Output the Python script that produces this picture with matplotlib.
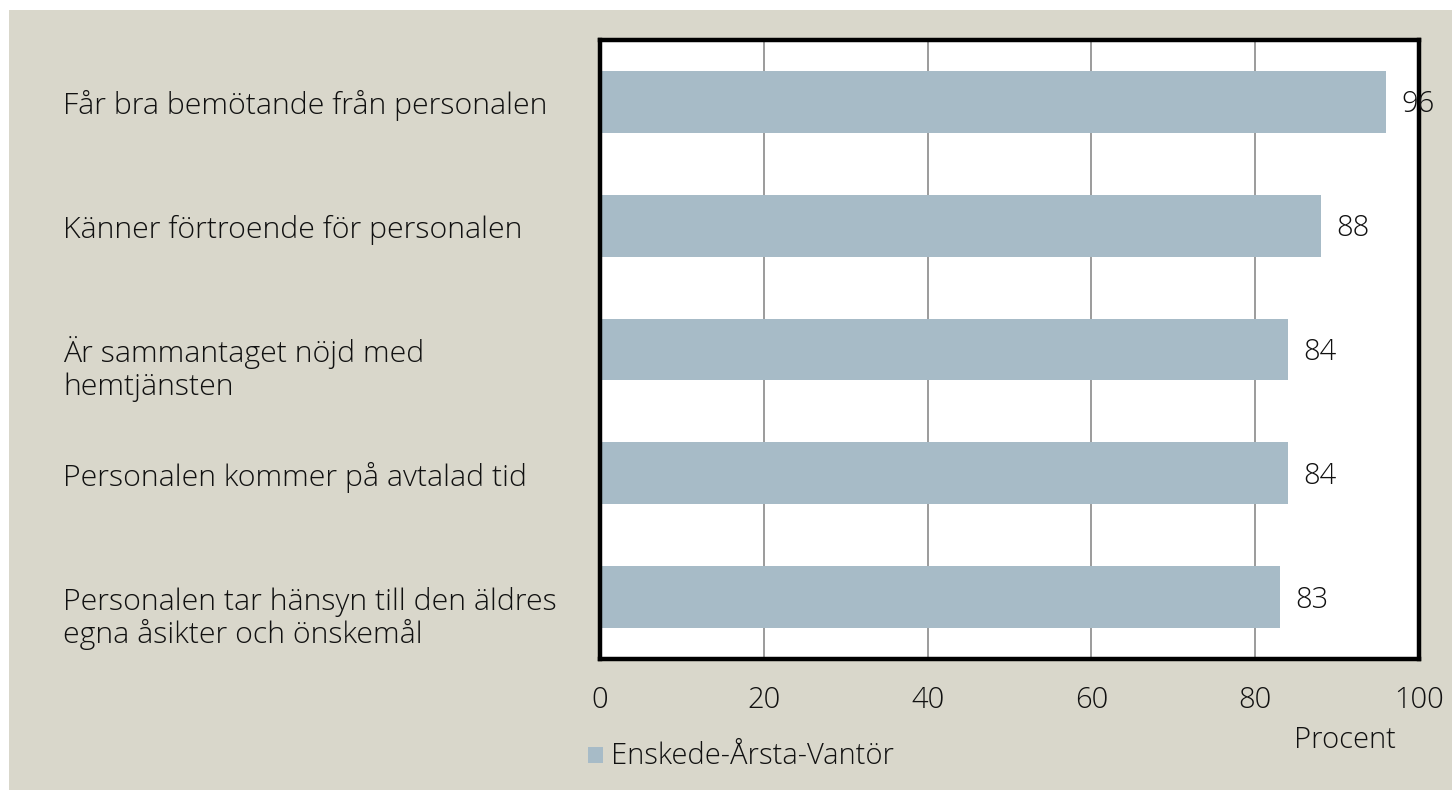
import matplotlib
matplotlib.use("Agg")
import matplotlib.pyplot as plt
from matplotlib.patches import Rectangle
from matplotlib.transforms import blended_transform_factory

# data, top to bottom as in the chart
categories = [
    "Får bra bemötande från personalen",
    "Känner förtroende för personalen",
    "Är sammantaget nöjd med\nhemtjänsten",
    "Personalen kommer på avtalad tid",
    "Personalen tar hänsyn till den äldres\negna åsikter och önskemål",
]
values = [96, 88, 84, 84, 83]
xticks = [0, 20, 40, 60, 80, 100]
series_name = "Enskede-Årsta-Vantör"
unit_label = "Procent"

BG = "#D9D7CB"
BAR = "#A7BBC7"
INK = "#111111"
FONT = "Open Sans"
WT = "light"
FS = 21
FS_CAT = 21.8
LINE_PT = 24  # distance between wrapped label lines, points

W, H = 1452, 790
fig = plt.figure(figsize=(W / 100, H / 100), dpi=100)
fig.patch.set_facecolor("white")
# beige panel, leaving a thin white strip on top and left
fig.patches.append(Rectangle((9 / W, 0), 1, 1 - 10 / H, transform=fig.transFigure,
                             facecolor=BG, edgecolor="none", zorder=-10))

ax = fig.add_axes([600 / W, 1 - 659 / H, (1419 - 600) / W, (659 - 40) / H])
ax.set_zorder(1)
ax.set_facecolor("white")

ypos = list(range(len(values)))[::-1]
ax.barh(ypos, values, height=0.5, color=BAR, zorder=2)

ax.set_xlim(0, 100)
ax.set_ylim(-0.5, len(values) - 0.5)
ax.set_xticks(xticks)
ax.set_xticklabels([str(t) for t in xticks], fontsize=FS, family=FONT,
                   weight=WT, color=INK)
ax.tick_params(axis="x", length=0, pad=19)
ax.set_yticks([])
ax.grid(axis="x", color="#8a8a8a", linewidth=1.2, zorder=1)
for s in ax.spines.values():
    s.set_linewidth(3.2)
    s.set_color("black")
    s.set_zorder(5)

# value labels just right of each bar
for y, v in zip(ypos, values):
    ax.annotate(str(v), (v, y), xytext=(11, -2), textcoords="offset points",
                va="center", ha="left", fontsize=FS, family=FONT, weight=WT,
                color=INK, zorder=6, annotation_clip=False)

# category labels, left-aligned in the figure margin; first line sits on the bar centre
tr = blended_transform_factory(fig.transFigure, ax.transData)
for y, c in zip(ypos, categories):
    for i, line in enumerate(c.split("\n")):
        ax.annotate(line, (63 / W, y), xycoords=tr,
                    xytext=(0, -9 - i * LINE_PT), textcoords="offset points",
                    ha="left", va="baseline", fontsize=FS_CAT, family=FONT,
                    weight=WT, color=INK)

fig.text(1345 / W, 1 - 740 / H, unit_label, ha="center", va="center",
         fontsize=FS, family=FONT, weight=WT, color=INK)

# legend marker and text
fig.patches.append(Rectangle((588 / W, 1 - 763 / H), 15 / W, 16 / H,
                             transform=fig.transFigure, facecolor=BAR,
                             edgecolor="none", zorder=3))
fig.text(611 / W, 1 - 756 / H, series_name, ha="left", va="center",
         fontsize=FS, family=FONT, weight=WT, color=INK)

fig.savefig("out.png", dpi=100, facecolor=fig.get_facecolor())
